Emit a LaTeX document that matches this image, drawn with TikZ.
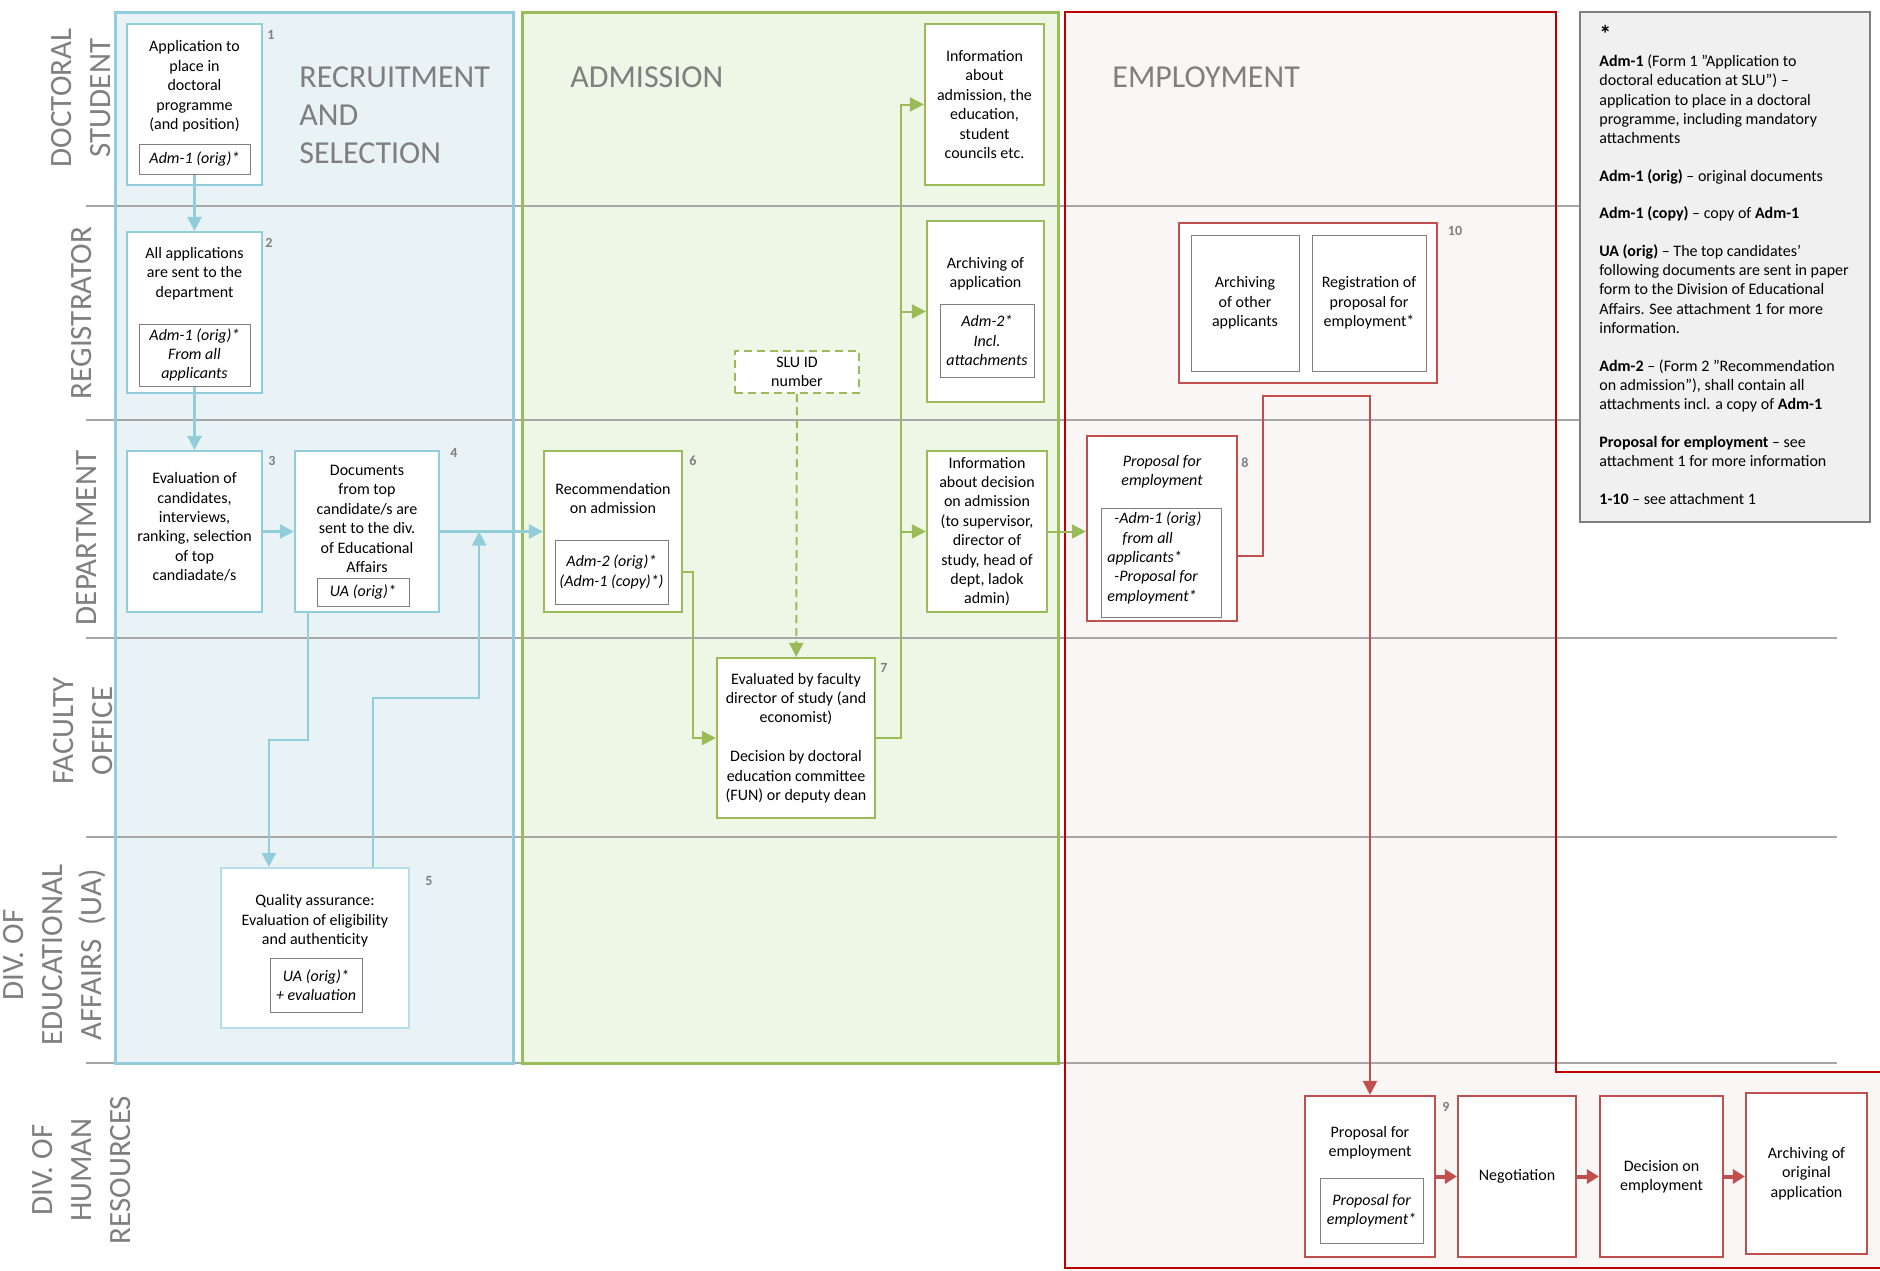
\documentclass[tikz,border=0pt]{standalone}
\usepackage{fontspec}
\setmainfont{Carlito}
\usetikzlibrary{arrows.meta,calc}
\definecolor{bluefr}{HTML}{92CDDC}
\definecolor{bluebg}{HTML}{E9F2F5}
\definecolor{bluelt}{HTML}{B7DEE8}
\definecolor{greenfr}{HTML}{9BBB59}
\definecolor{greenbg}{HTML}{EEF6E6}
\definecolor{redfr}{HTML}{C00000}
\definecolor{redbx}{HTML}{C0504D}
\definecolor{redbg}{HTML}{FAF6F6}
\definecolor{lanegray}{HTML}{A6A6A6}
\definecolor{headgray}{HTML}{7F7F7F}
\definecolor{notebg}{HTML}{F0F0F0}

\begin{document}
\begin{tikzpicture}[x=0.5pt,y=-0.5pt,
  sz/.style 2 args={minimum width=#1*0.5pt,minimum height=#2*0.5pt},
  box/.style={draw,fill=white,line width=1.1pt,inner sep=0pt},
  bluebox/.style={box,draw=bluefr},
  greenbox/.style={box,draw=greenfr},
  redbox/.style={box,draw=redbx},
  txt/.style={inner sep=0pt,align=center,font=\fontsize{8}{9.7}\selectfont},
  ittxt/.style={inner sep=0pt,align=center,font=\fontsize{8}{9.7}\selectfont\itshape},
  doc/.style={draw=headgray,fill=white,line width=0.5pt,ittxt},
  num/.style={inner sep=0pt,text=headgray,font=\fontsize{7}{8}\selectfont\bfseries},
  lane/.style={inner sep=0pt,rotate=90,align=center,text=headgray,font=\fontsize{15.5}{19.5}\selectfont},
  phase/.style={inner sep=0pt,anchor=west,align=left,text=headgray,font=\fontsize{16}{19}\selectfont},
  bluearr/.style={draw=bluefr,line width=1.3pt,-{Triangle[length=7pt,width=7pt]}},
  greenarr/.style={draw=greenfr,line width=1pt,-{Triangle[length=7pt,width=7pt]}},
  redarr/.style={draw=redbx,line width=1pt,-{Triangle[length=7pt,width=7pt]}},
  redthick/.style={draw=redbx,line width=2pt,-{Triangle[length=6pt,width=7pt]}},
  slubox/.style={greenbox,txt,dash pattern=on 4pt off 2.5pt}]
\useasboundingbox (0,0) rectangle (1880,1270);
\clip (0,0) rectangle (1880,1270);
\fill[bluebg] (115,12) rectangle (513,1063);
\fill[greenbg] (522,12) rectangle (1058,1063);
\fill[redbg] (1065,12) -- (1556,12) -- (1556,1072) -- (1885,1072) -- (1885,1268) -- (1065,1268) -- cycle;
\fill[notebg] (1580,12) rectangle (1870,522);
\foreach \y/\e in {206/1580,420/1580,638/1837,837/1837,1063/1837}
  \draw[lanegray,line width=1pt] (86,\y) -- (\e,\y);
\draw[bluefr,line width=1.5pt] (115,12) rectangle (513,1063);
\draw[greenfr,line width=1.5pt] (522,12) rectangle (1058,1063);
\draw[redfr,line width=1.3pt] (1065,12) -- (1556,12) -- (1556,1072) -- (1885,1072) -- (1885,1268) -- (1065,1268) -- cycle;
\draw[headgray,line width=0.8pt] (1580,12) rectangle (1870,522);

\node[lane] (l1) at (81.5,98) {DOCTORAL\\STUDENT};
\node[lane] (l2) at (82,313) {REGISTRATOR};
\node[lane] (l3) at (87,538) {DEPARTMENT};
\node[lane] (l4) at (83.5,731) {FACULTY\\OFFICE};
\node[lane] (l5) at (55,955) {DIV. OF\\EDUCATIONAL\\AFFAIRS\ \ (UA)};
\node[lane] (l6) at (82,1170) {DIV. OF\\HUMAN\\RESOURCES};

\node[phase] (p1) at (299,115) {RECRUITMENT\\AND\\SELECTION};
\node[phase] (p2) at (570,77) {ADMISSION};
\node[phase] (p3) at (1112,77) {EMPLOYMENT};

\node[bluebox,sz={135}{161}] (b1) at (194.5,104.5) {};
\node[txt] (t1) at (194.5,86.5) {Application to\\place in\\doctoral\\programme\\(and position)};
\node[doc,sz={111}{30}] (d1) at (194.5,159) {Adm-1 (orig)*};
\node[num] (n1) at (271,35) {1};

\node[bluebox,sz={135}{161}] (b2) at (194.5,312.5) {};
\node[txt] (t2) at (194.5,273.5) {All applications\\are sent to the\\department};
\node[doc,sz={111}{62}] (d2) at (194.5,355) {Adm-1 (orig)*\\From all\\applicants};
\node[num] (n2) at (269,243) {2};

\node[bluebox,sz={135}{161}] (b3) at (194.5,531.5) {};
\node[txt] (t3) at (194.5,527) {Evaluation of\\candidates,\\interviews,\\ranking, selection\\of top\\candiadate/s};
\node[num] (n3) at (272,461) {3};

\node[bluebox,sz={144}{161}] (b4) at (367,531.5) {};
\node[txt] (t4) at (367,519) {Documents\\from top\\candidate/s are\\sent to the div.\\of Educational\\Affairs};
\node[doc,sz={92}{28}] (d4) at (363,592) {UA (orig)*};
\node[num] (n4) at (454,453) {4};

\node[box,draw=bluelt,sz={188}{160}] (b5) at (315,948) {};
\node[txt] (t5) at (315,921) {Quality assurance:\\Evaluation of eligibility\\and authenticity};
\node[doc,sz={92}{54}] (d5) at (316,985) {UA (orig)*\\+ evaluation};
\node[num] (n5) at (429,881) {5};

\node[greenbox,sz={138}{161}] (b6) at (613,531.5) {};
\node[txt] (t6) at (613,498.5) {Recommendation\\on admission};
\node[doc,sz={113}{64}] (d6) at (611.5,572) {Adm-2 (orig)*\\(Adm-1 (copy)*)};
\node[num] (n6) at (693,461) {6};

\node[greenbox,txt,sz={158}{160}] (b7) at (796,738) {Evaluated by faculty\\director of study (and\\economist)\\[9.7pt]Decision by doctoral\\education committee\\(FUN) or deputy dean};
\node[num] (n7) at (884,668) {7};

\node[slubox,sz={124}{42}] (slu) at (797,372) {SLU ID\\number};

\node[greenbox,txt,sz={119}{161}] (i1) at (984.5,104.5) {Information\\about\\admission, the\\education,\\student\\councils etc.};
\node[greenbox,sz={117}{181}] (ar) at (985.5,311.5) {};
\node[txt] (tar) at (985.5,273.5) {Archiving of\\application};
\node[doc,sz={94}{73}] (dar) at (987,340.5) {Adm-2*\\Incl.\\attachments};
\node[greenbox,txt,sz={120}{161}] (i2) at (987,531.5) {Information\\about decision\\on admission\\(to supervisor,\\director of\\study, head of\\dept, ladok\\admin)};

\node[redbox,sz={150}{185}] (b8) at (1162,528.5) {};
\node[ittxt] (t8) at (1162,471.5) {Proposal for\\employment};
\node[doc,sz={120}{109}] (d8) at (1161,562.5) {};
\node[ittxt,align=left,anchor=west] (td8) at (1107,558) {\hspace*{3.5pt}-Adm-1 (orig)\\\hspace*{7.5pt}from all\\applicants*\\\hspace*{3.5pt}-Proposal for\\employment*};
\node[num] (n8) at (1245,463) {8};

\node[redbox,sz={258}{160}] (b10) at (1308,303) {};
\node[box,draw=headgray,line width=0.5pt,txt,sz={108}{136}] (a10) at (1245,303) {Archiving\\of other\\applicants};
\node[box,draw=headgray,line width=0.5pt,txt,sz={114}{136}] (r10) at (1369,303) {Registration of\\proposal for\\employment*};
\node[num] (n10) at (1455,231) {10};

\node[redbox,sz={130}{161}] (b9) at (1370,1176.5) {};
\node[txt] (t9) at (1370,1142.5) {Proposal for\\employment};
\node[doc,sz={103}{65}] (d9) at (1371.5,1210.5) {Proposal for\\employment*};
\node[num] (n9) at (1446,1107) {9};
\node[redbox,txt,sz={118}{161}] (neg) at (1517,1176.5) {Negotiation};
\node[redbox,txt,sz={123}{161}] (dec) at (1661.5,1176.5) {Decision on\\employment};
\node[redbox,txt,sz={121}{161}] (arc) at (1806.5,1173.5) {Archiving of\\original\\application};

\node[anchor=north west,inner sep=0pt,align=left,font=\fontsize{8}{9.7}\selectfont] (note) at (1599,25) {{\fontsize{12}{9.7}\selectfont\textbf{*}}\\[2.2pt]
\textbf{Adm-1} (Form 1 ”Application to\\doctoral education at SLU”) –\\application to place in a doctoral\\programme, including mandatory\\attachments\\[9pt]
\textbf{Adm-1 (orig)} – original documents\\[9pt]
\textbf{Adm-1 (copy)} – copy of \textbf{Adm-1}\\[9pt]
\textbf{UA (orig)} – The top candidates’\\following documents are sent in paper\\form to the Division of Educational\\Affairs. See attachment 1 for more\\information.\\[9pt]
\textbf{Adm-2} – (Form 2 ”Recommendation\\on admission”), shall contain all\\attachments incl. a copy of \textbf{Adm-1}\\[9pt]
\textbf{Proposal for employment} – see\\attachment 1 for more information\\[9pt]
\textbf{1-10} – see attachment 1};

\draw[bluearr] (d1) -- (b2);
\draw[bluearr] (d2) -- (b3);
\draw[bluearr] (b3) -- (b4);
\draw[bluearr] (b4) -- (b6);
\draw[bluearr] ([xshift=7pt]b4.south west) -- ++(0,127) -| ([xshift=24.5pt]b5.north west);
\draw[bluearr] ([xshift=76.5pt]b5.north west) -- ++(0,-169) -| ([xshift=19.5pt]b4.east);
\draw[greenarr] (b6.east |- d6.east) -- ++(10,0) |- (b7);
\draw[greenarr,dash pattern=on 4pt off 2.5pt] (slu) -- (b7);
\draw[greenarr] (b7.east) -- ++(25,0) |- (i1);
\draw[greenarr] (b7.east) -- ++(25,0) |- (ar);
\draw[greenarr] (b7.east) -- ++(25,0) |- (i2);
\draw[greenarr] (i2.east) -- (i2.east -| b8.west);
\draw[redarr] ([yshift=-13.75pt]b8.east) -- ++(25,0) -- ++(0,-160) -| (b9);
\draw[redthick] (b9) -- (neg);
\draw[redthick] (neg) -- (dec);
\draw[redthick] (dec.east) -- (dec.east -| arc.west);
\end{tikzpicture}
\end{document}
